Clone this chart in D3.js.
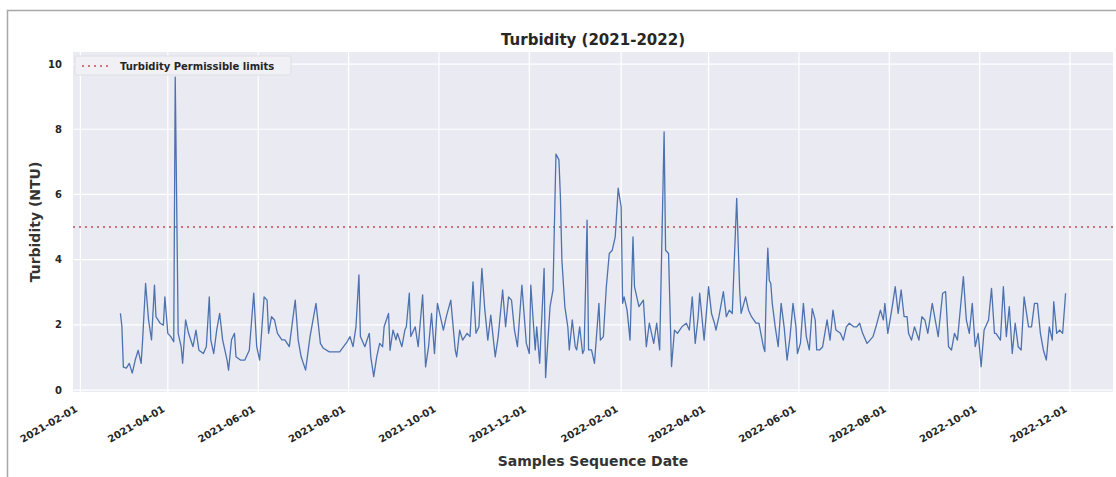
<!DOCTYPE html>
<html>
<head>
<meta charset="utf-8">
<script src="https://cdn.jsdelivr.net/npm/d3@7"></script>
<style>
  body { margin: 0; background: #fff; }
  svg { display: block; font-family: "DejaVu Sans", sans-serif; }
</style>
</head>
<body>
<svg id="chart" width="1116" height="477"></svg>
<script>
// samples (month-day, NTU)
const dates2021 = ["02-28","03-01","03-02","03-04","03-06","03-08","03-10","03-12","03-14","03-15","03-17","03-19","03-21","03-23","03-24","03-27","03-29","03-30",
  "04-01","04-03","04-05","04-06","04-08","04-10","04-11","04-13","04-15","04-18","04-20","04-22","04-25","04-27","04-29","04-30",
  "05-02","05-04","05-06","05-08","05-11","05-12","05-14","05-16","05-17","05-20","05-23","05-26","05-29","05-31",
  "06-02","06-05","06-07","06-08","06-10","06-12","06-14","06-17","06-19","06-22","06-26","06-28","06-30",
  "07-03","07-06","07-10","07-13","07-15","07-19","07-26","07-31",
  "08-02","08-04","08-06","08-08","08-09","08-12","08-15","08-16","08-18","08-20","08-22","08-24","08-25","08-28","08-29","08-31",
  "09-02","09-03","09-06","09-08","09-09","09-11","09-12","09-15","09-17","09-20","09-22","09-24","09-26","09-28","09-30",
  "10-04","10-06","10-09","10-12","10-13","10-15","10-17","10-20","10-22","10-24","10-26","10-28","10-30",
  "11-01","11-03","11-05","11-08","11-10","11-13","11-15","11-17","11-19","11-21","11-23","11-26","11-29",
  "12-01","12-02","12-05","12-06","12-08","12-11","12-12","12-15","12-17","12-19","12-21","12-22","12-23","12-25","12-27","12-28","12-30"];
const ntu2021 = [2.35,1.95,0.70,0.67,0.82,0.52,0.92,1.22,0.82,1.54,3.27,2.15,1.54,3.22,2.25,2.04,1.99,2.86,
  1.74,1.64,1.48,9.60,1.74,1.33,0.82,2.15,1.74,1.33,1.84,1.22,1.12,1.33,2.86,1.54,
  1.12,1.84,2.35,1.54,0.92,0.61,1.54,1.74,1.02,0.92,0.92,1.22,2.97,1.33,
  0.92,2.86,2.76,1.74,2.25,2.15,1.74,1.54,1.54,1.33,2.76,1.54,1.02,
  0.61,1.64,2.66,1.43,1.28,1.17,1.17,1.48,
  1.64,1.33,1.94,3.53,1.64,1.33,1.74,1.02,0.41,1.02,1.43,1.33,1.94,2.35,1.22,1.84,
  1.54,1.74,1.33,1.84,1.94,2.97,1.64,1.94,1.33,2.92,0.71,1.33,2.35,1.12,2.66,
  1.84,2.25,2.76,1.23,1.02,1.84,1.53,1.74,1.64,3.32,1.74,1.94,3.73,
  2.45,1.53,2.30,1.02,1.64,3.07,1.94,2.86,2.76,1.84,1.33,3.22,1.43,
  1.12,3.22,1.23,1.94,0.82,3.73,0.38,2.56,3.07,7.24,7.06,5.93,3.99,2.56,1.94,1.23,2.15];

const dates2022 = ["01-01","01-02","01-04","01-06","01-07","01-09","01-10","01-12","01-14","01-17","01-18","01-20","01-22","01-24","01-26","01-28","01-30",
  "02-01","02-02","02-03","02-05","02-07","02-09","02-10","02-13","02-16","02-18","02-20","02-23","02-25","02-27",
  "03-02","03-03","03-05","03-07","03-09","03-11","03-14","03-17","03-19","03-21","03-23","03-25","03-26","03-29",
  "04-01","04-03","04-05","04-06","04-08","04-11","04-13","04-15","04-17","04-20","04-22","04-23","04-26","04-28","04-30",
  "05-03","05-05","05-08","05-09","05-10","05-11","05-12","05-13","05-14","05-16","05-18","05-20","05-22","05-24","05-26","05-28","05-30","05-31",
  "06-02","06-04","06-06","06-08","06-10","06-12","06-13","06-15","06-17","06-20","06-22","06-24","06-26","06-29",
  "07-01","07-03","07-05","07-08","07-10","07-12","07-14","07-17","07-19","07-21","07-23","07-26","07-28","07-29","07-31",
  "08-03","08-05","08-07","08-09","08-11","08-13","08-14","08-16","08-18","08-21","08-23","08-25","08-27","08-30",
  "09-01","09-03","09-06","09-08","09-10","09-12","09-14","09-16","09-20","09-22","09-24","09-26","09-28","09-30",
  "10-02","10-04","10-07","10-09","10-11","10-12","10-15","10-17","10-19","10-21","10-23","10-25","10-27","10-29","10-31",
  "11-03","11-05","11-07","11-09","11-11","11-13","11-15","11-17","11-19","11-20","11-22","11-24","11-26","11-28"];
const ntu2022 = [1.33,1.23,1.94,1.12,1.23,5.21,1.23,1.23,0.82,2.66,1.53,1.64,3.17,4.19,4.29,4.70,6.19,
  5.62,2.66,2.86,2.45,1.53,4.70,3.17,2.56,2.76,1.33,2.05,1.43,2.05,1.23,
  7.92,4.29,4.19,0.72,1.84,1.74,1.94,2.05,1.84,2.86,1.43,2.25,2.97,1.53,
  3.17,2.35,2.05,1.84,2.25,3.02,2.25,2.45,2.35,5.88,3.07,2.35,2.86,2.45,2.25,
  2.05,2.05,1.33,1.18,3.17,4.35,3.37,3.27,2.66,1.94,1.33,2.66,1.94,0.92,1.64,2.66,1.94,1.12,
  1.43,2.66,1.64,1.23,2.50,2.15,1.23,1.23,1.33,2.15,1.53,2.45,1.84,1.74,
  1.53,1.94,2.05,1.94,1.94,2.05,1.74,1.43,1.53,1.64,1.94,2.45,2.15,2.66,1.74,
  2.56,3.17,2.35,3.07,2.25,2.25,1.74,1.53,1.94,1.53,2.25,2.15,1.74,2.66,
  2.15,1.64,2.97,3.02,1.33,1.23,1.74,1.53,3.48,2.15,1.74,2.66,1.33,1.74,
  0.72,1.84,2.15,3.12,1.74,1.74,1.53,3.17,1.64,2.56,1.12,2.05,1.33,1.23,2.86,
  1.94,1.94,2.66,2.66,1.74,1.23,0.92,1.94,1.53,2.71,1.74,1.84,1.74,2.97];

const permissibleLimit = 5;
const yTicks = [0, 2, 4, 6, 8, 10];
const xTickLabels = ["2021-02-01","2021-04-01","2021-06-01","2021-08-01","2021-10-01","2021-12-01",
  "2022-02-01","2022-04-01","2022-06-01","2022-08-01","2022-10-01","2022-12-01"];

const parse = d3.utcParse("%Y-%m-%d");
const samples = dates2021.map((d, i) => ({ date: parse("2021-" + d), v: ntu2021[i] }))
  .concat(dates2022.map((d, i) => ({ date: parse("2022-" + d), v: ntu2022[i] })));

const plot = { left: 73, top: 52, right: 1113, bottom: 392 };
const svg = d3.select("#chart");

const x = d3.scaleUtc()
  .domain([parse("2021-01-27"), parse("2022-12-30")])
  .range([plot.left, plot.right]);
const y = d3.scaleLinear()
  .domain([-0.06, 10.37])
  .range([plot.bottom, plot.top]);

// outer frame (cropped screenshot border)
svg.append("rect")
  .attr("x", 7.5).attr("y", 10.5)
  .attr("width", 1130).attr("height", 490)
  .attr("fill", "none").attr("stroke", "#a8a8a8").attr("stroke-width", 1.5);

svg.append("rect")
  .attr("x", plot.left).attr("y", plot.top)
  .attr("width", plot.right - plot.left).attr("height", plot.bottom - plot.top)
  .attr("fill", "#eaeaf2");

// grid
svg.append("g").selectAll("line")
  .data(xTickLabels)
  .join("line")
  .attr("x1", d => x(parse(d))).attr("x2", d => x(parse(d)))
  .attr("y1", plot.top).attr("y2", plot.bottom)
  .attr("stroke", "#fff").attr("stroke-width", 1.2);

svg.append("g").selectAll("line")
  .data(yTicks)
  .join("line")
  .attr("x1", plot.left).attr("x2", plot.right)
  .attr("y1", d => y(d)).attr("y2", d => y(d))
  .attr("stroke", "#fff").attr("stroke-width", 1.2);

// permissible limit
svg.append("line")
  .attr("x1", plot.left).attr("x2", plot.right)
  .attr("y1", y(permissibleLimit)).attr("y2", y(permissibleLimit))
  .attr("stroke", "#c44e52").attr("stroke-width", 1.6)
  .attr("stroke-dasharray", "2,4");

const line = d3.line().x(d => x(d.date)).y(d => y(d.v));
svg.append("path")
  .datum(samples)
  .attr("d", line)
  .attr("fill", "none")
  .attr("stroke", "#4c72b0")
  .attr("stroke-width", 1.3)
  .attr("stroke-linejoin", "round");

// y tick labels
svg.append("g").selectAll("text")
  .data(yTicks)
  .join("text")
  .attr("x", 62).attr("y", d => y(d))
  .attr("dy", "0.35em")
  .attr("text-anchor", "end")
  .attr("font-size", 10).attr("font-weight", "bold").attr("fill", "#262626")
  .text(d => d);

// x tick labels
svg.append("g").selectAll("text")
  .data(xTickLabels)
  .join("text")
  .attr("transform", d => `translate(${x(parse(d)) - 4},${plot.bottom + 16}) rotate(-30)`)
  .attr("dy", "0.35em")
  .attr("text-anchor", "end")
  .attr("font-size", 10).attr("font-weight", "bold").attr("fill", "#262626")
  .text(d => d);

// title & axis labels
svg.append("text")
  .attr("x", (plot.left + plot.right) / 2).attr("y", 45)
  .attr("text-anchor", "middle")
  .attr("font-size", 15).attr("font-weight", "bold").attr("fill", "#262626")
  .text("Turbidity (2021-2022)");

svg.append("text")
  .attr("x", (plot.left + plot.right) / 2).attr("y", 466)
  .attr("text-anchor", "middle")
  .attr("font-size", 14).attr("font-weight", "bold").attr("fill", "#333")
  .text("Samples Sequence Date");

svg.append("text")
  .attr("transform", `translate(40,${(plot.top + plot.bottom) / 2}) rotate(-90)`)
  .attr("text-anchor", "middle")
  .attr("font-size", 14).attr("font-weight", "bold").attr("fill", "#333")
  .text("Turbidity (NTU)");

// legend
const legend = svg.append("g").attr("transform", `translate(${plot.left + 2},${plot.top + 4})`);
legend.append("rect")
  .attr("width", 216).attr("height", 19).attr("rx", 2)
  .attr("fill", "#f0f0f5").attr("stroke", "#dedee6");
legend.append("line")
  .attr("x1", 7).attr("x2", 33).attr("y1", 10).attr("y2", 10)
  .attr("stroke", "#c44e52").attr("stroke-width", 1.6)
  .attr("stroke-dasharray", "2,4");
legend.append("text")
  .attr("x", 45).attr("y", 10).attr("dy", "0.35em")
  .attr("font-size", 10).attr("font-weight", "bold").attr("fill", "#262626")
  .text("Turbidity Permissible limits");
</script>
</body>
</html>
